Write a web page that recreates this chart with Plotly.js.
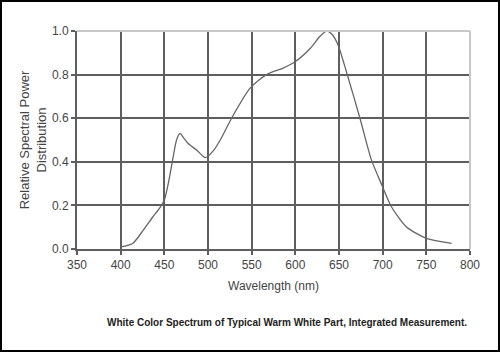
<!DOCTYPE html>
<html>
<head>
<meta charset="utf-8">
<script src="https://cdn.plot.ly/plotly-3.0.1.min.js"></script>
<style>
html,body{margin:0;padding:0;background:#fff;}
#wrap{position:relative;width:500px;height:352px;}
#chart{width:500px;height:352px;}
#frame{position:absolute;left:0;top:0;width:500px;height:352px;box-sizing:border-box;border:2px solid #000;pointer-events:none;}
</style>
</head>
<body>
<div id="wrap"><div id="chart"></div><div id="frame"></div></div>
<script>
const wavelength = [400, 405, 414, 426, 437, 445, 450, 455, 460, 464, 468, 472, 477, 487, 497, 506, 514, 527, 548, 567, 586, 600, 617, 628, 636, 642, 649, 659, 674, 687, 699, 710, 727, 750, 779];
const power =      [0.01, 0.013, 0.026, 0.087, 0.148, 0.19, 0.225, 0.31, 0.42, 0.50, 0.53, 0.51, 0.485, 0.454, 0.419, 0.45, 0.50, 0.60, 0.737, 0.80, 0.83, 0.86, 0.92, 0.975, 1.0, 0.985, 0.935, 0.806, 0.60, 0.41, 0.294, 0.194, 0.102, 0.049, 0.026];
const xTicks = [350, 400, 450, 500, 550, 600, 650, 700, 750, 800];
const yTicks = [0.0, 0.2, 0.4, 0.6, 0.8, 1.0];
const yTickText = ['0.0', '0.2', '0.4', '0.6', '0.8', '1.0'];
const xTitle = 'Wavelength (nm)';
const yTitle = 'Relative Spectral Power<br>Distribution';
const caption = 'White Color Spectrum of Typical Warm White Part, Integrated Measurement.';

const font = {family: 'Liberation Sans, Arial, sans-serif', size: 12, color: '#444'};
const trace = {
  x: wavelength, y: power, type: 'scatter', mode: 'lines',
  line: {color: '#666', width: 1.3, shape: 'spline', smoothing: 0.7},
  hoverinfo: 'skip'
};
const layout = {
  width: 500, height: 352,
  margin: {l: 77, r: 30, t: 31, b: 103},
  paper_bgcolor: '#fff', plot_bgcolor: '#fff',
  showlegend: false,
  font: font,
  xaxis: {
    range: [350, 800], tickvals: xTicks, ticktext: xTicks.map(String),
    showgrid: true, gridcolor: '#5e5e5e', gridwidth: 2,
    showline: true, linecolor: '#5e5e5e', linewidth: 2,
    ticks: 'outside', ticklen: 4, tickcolor: '#5e5e5e', tickwidth: 2,
    zeroline: false, tickfont: font,
    title: {text: xTitle, font: font, standoff: 10}
  },
  yaxis: {
    range: [0, 1], tickvals: yTicks, ticktext: yTickText,
    showgrid: true, gridcolor: '#5e5e5e', gridwidth: 2,
    showline: true, linecolor: '#5e5e5e', linewidth: 2,
    ticks: 'outside', ticklen: 4, tickcolor: '#5e5e5e', tickwidth: 2,
    zeroline: false, tickfont: font,
    title: {text: yTitle, font: {family: font.family, size: 13, color: '#444'}, standoff: 2}
  },
  shapes: [
    {type: 'line', xref: 'paper', yref: 'paper', x0: 0, x1: 1, y0: 1, y1: 1, line: {color: '#c8c8c8', width: 2}, layer: 'above'},
    {type: 'line', xref: 'paper', yref: 'paper', x0: 1, x1: 1, y0: 0, y1: 1, line: {color: '#c8c8c8', width: 2}, layer: 'above'}
  ],
  annotations: [{
    text: '<b>' + caption + '</b>', xref: 'paper', yref: 'paper',
    x: 0.534, y: -0.339, xanchor: 'center', yanchor: 'middle', showarrow: false,
    font: {family: 'Liberation Sans, Arial, sans-serif', size: 10, color: '#222'}
  }]
};
Plotly.newPlot('chart', [trace], layout, {staticPlot: true, displayModeBar: false});
</script>
</body>
</html>
